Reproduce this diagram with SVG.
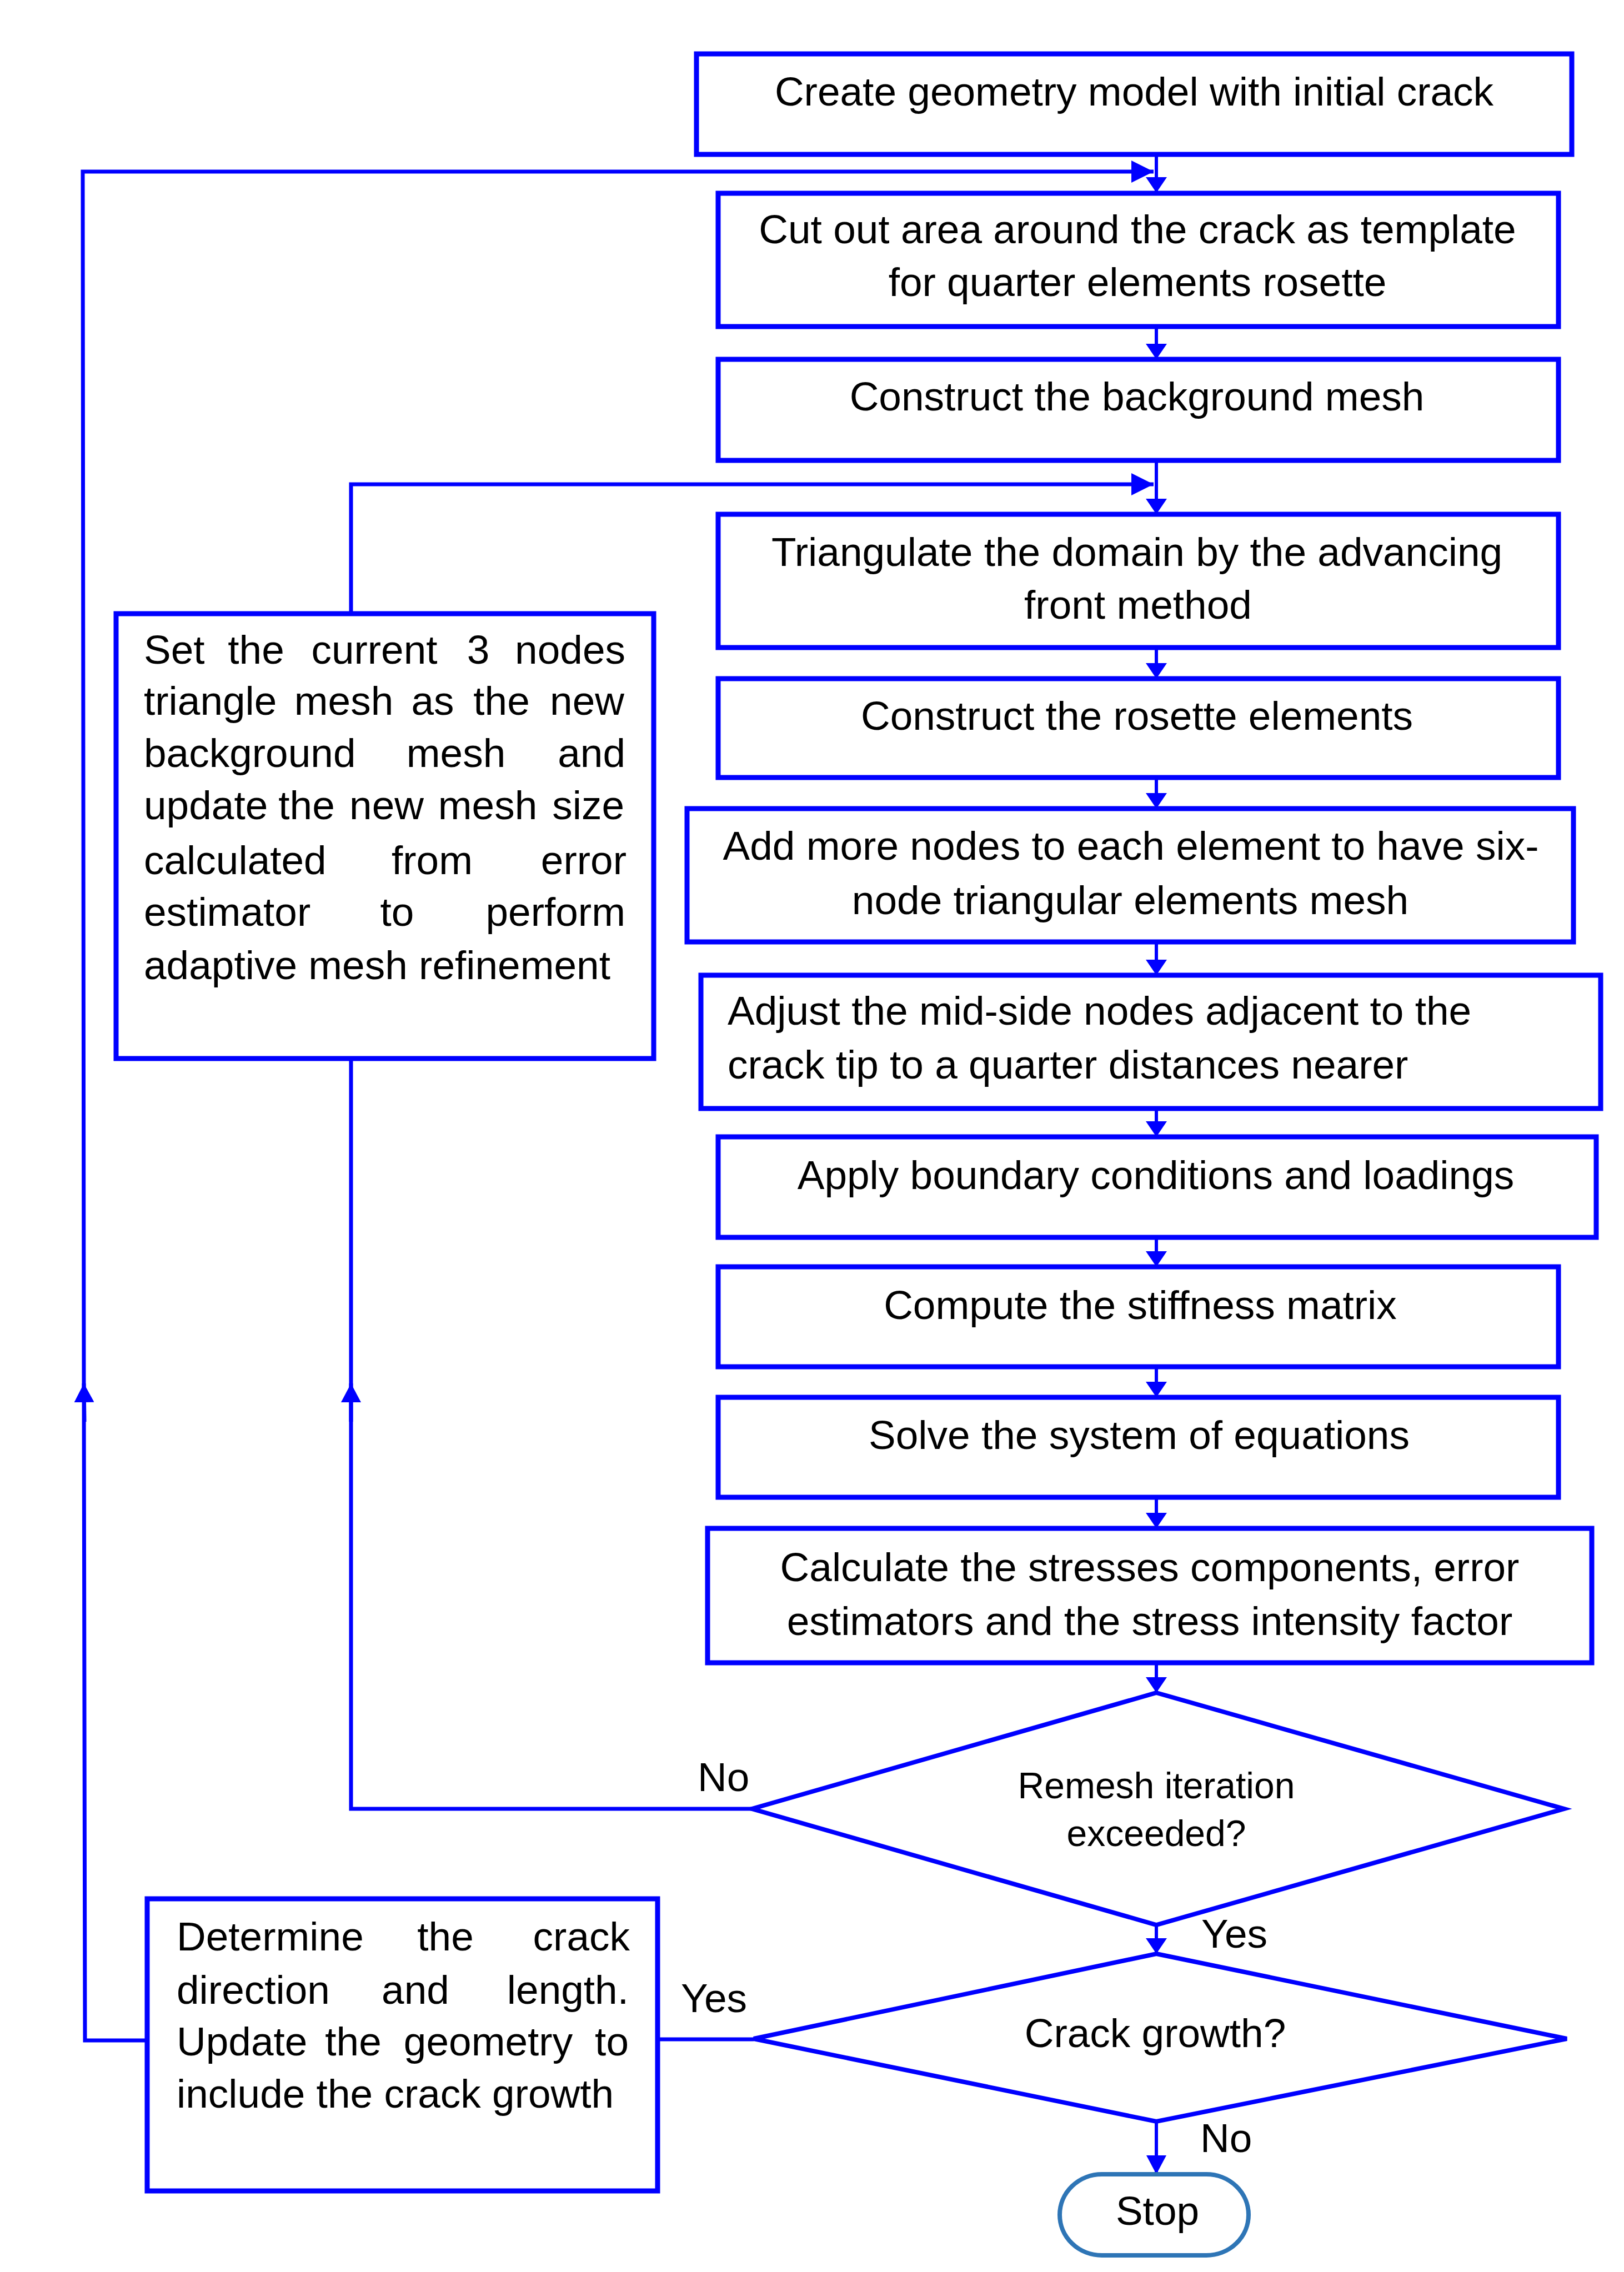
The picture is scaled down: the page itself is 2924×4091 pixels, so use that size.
<svg xmlns="http://www.w3.org/2000/svg" width="2924" height="4091" viewBox="0 0 2924 4091">
<style>
.box{fill:#fff;stroke:#0000ff;stroke-width:9}
.dia{fill:#fff;stroke:#0000ff;stroke-width:8;stroke-linejoin:miter}
.term{fill:#fff;stroke:#2e75b6;stroke-width:8}
.ln{fill:none;stroke:#0000ff;stroke-width:7}
.lv{fill:none;stroke:#0000ff;stroke-width:6}
text{font-family:"Liberation Sans",Arial,sans-serif;font-size:73px;fill:#000}
.c{text-anchor:middle}
.s{font-size:66px}
</style>
<defs>
<marker id="ah" markerUnits="userSpaceOnUse" viewBox="0 0 28 38" markerWidth="28" markerHeight="38" refX="28" refY="19" orient="auto">
<path d="M0,0 L28,19 L0,38 z" fill="#0000ff"/>
</marker>
<marker id="ahh" markerUnits="userSpaceOnUse" viewBox="0 0 40 40" markerWidth="40" markerHeight="40" refX="40" refY="20" orient="auto">
<path d="M0,0 L40,20 L0,40 z" fill="#0000ff"/>
</marker>
<marker id="ahu" markerUnits="userSpaceOnUse" viewBox="0 0 34 36" markerWidth="34" markerHeight="36" refX="34" refY="18" orient="auto">
<path d="M0,0 L34,18 L0,36 z" fill="#0000ff"/>
</marker>
</defs>
<rect width="2924" height="4091" fill="#fff"/>
<g id="connectors">
<line class="lv" x1="2082" y1="278" x2="2082" y2="347" marker-end="url(#ah)"/>
<line class="lv" x1="2082" y1="588" x2="2082" y2="647" marker-end="url(#ah)"/>
<line class="lv" x1="2082" y1="829" x2="2082" y2="926" marker-end="url(#ah)"/>
<line class="lv" x1="2082" y1="1166" x2="2082" y2="1222" marker-end="url(#ah)"/>
<line class="lv" x1="2082" y1="1400" x2="2082" y2="1456" marker-end="url(#ah)"/>
<line class="lv" x1="2082" y1="1696" x2="2082" y2="1756" marker-end="url(#ah)"/>
<line class="lv" x1="2082" y1="1996" x2="2082" y2="2047" marker-end="url(#ah)"/>
<line class="lv" x1="2082" y1="2228" x2="2082" y2="2281" marker-end="url(#ah)"/>
<line class="lv" x1="2082" y1="2461" x2="2082" y2="2516" marker-end="url(#ah)"/>
<line class="lv" x1="2082" y1="2696" x2="2082" y2="2752" marker-end="url(#ah)"/>
<line class="lv" x1="2082" y1="2994" x2="2082" y2="3048" marker-end="url(#ah)"/>
<line class="lv" x1="2082" y1="3466" x2="2082" y2="3518" marker-end="url(#ah)"/>
<line class="lv" x1="2082" y1="3820" x2="2082" y2="3915" marker-end="url(#ahu)"/>
<!-- outer loop: crack growth yes -->
<line class="ln" x1="1357" y1="3672" x2="1184" y2="3672"/>
<polyline class="ln" points="265,3674 153,3674 151,2491"/>
<line class="ln" x1="152" y1="2560" x2="151" y2="2491" marker-end="url(#ahu)"/>
<polyline class="ln" points="151,2491 149,309 2077,309" marker-end="url(#ahh)"/>
<!-- inner loop: remesh no -->
<polyline class="ln" points="1354,3257 632,3257 632,2491"/>
<line class="ln" x1="632" y1="2560" x2="632" y2="2491" marker-end="url(#ahu)"/>
<line class="ln" x1="632" y1="2491" x2="632" y2="1887"/>
<polyline class="ln" points="632,1105 632,872 2077,872" marker-end="url(#ahh)"/>
</g>
<g id="n1"><rect class="box" x="1254" y="97" width="1576" height="181"/>
<text class="c" x="2042" y="190">Create geometry model with initial crack</text></g>
<g id="n2"><rect class="box" x="1293" y="348" width="1513" height="240"/>
<text class="c" x="2048" y="438">Cut out area around the crack as template</text>
<text class="c" x="2048" y="533">for quarter elements rosette</text></g>
<g id="n3"><rect class="box" x="1293" y="647" width="1513" height="182"/>
<text class="c" x="2047" y="739">Construct the background mesh</text></g>
<g id="n4"><rect class="box" x="1293" y="926" width="1513" height="240"/>
<text class="c" x="2047" y="1019">Triangulate the domain by the advancing</text>
<text class="c" x="2049" y="1114">front method</text></g>
<g id="n5"><rect class="box" x="1293" y="1222" width="1513" height="178"/>
<text class="c" x="2047" y="1314">Construct the rosette elements</text></g>
<g id="n6"><rect class="box" x="1237" y="1456" width="1596" height="240"/>
<text class="c" x="2036" y="1548">Add more nodes to each element to have six-</text>
<text class="c" x="2035" y="1646">node triangular elements mesh</text></g>
<g id="n7"><rect class="box" x="1262" y="1756" width="1620" height="240"/>
<text x="1310" y="1845">Adjust the mid-side nodes adjacent to the</text>
<text x="1310" y="1942">crack tip to a quarter distances nearer</text></g>
<g id="n8"><rect class="box" x="1293" y="2047" width="1581" height="181"/>
<text class="c" x="2081" y="2141">Apply boundary conditions and loadings</text></g>
<g id="n9"><rect class="box" x="1293" y="2281" width="1513" height="180"/>
<text class="c" x="2053" y="2375">Compute the stiffness matrix</text></g>
<g id="n10"><rect class="box" x="1293" y="2516" width="1513" height="180"/>
<text class="c" x="2051" y="2609">Solve the system of equations</text></g>
<g id="n11"><rect class="box" x="1274" y="2752" width="1592" height="242"/>
<text class="c" x="2070" y="2847">Calculate the stresses components, error</text>
<text class="c" x="2070" y="2944">estimators and the stress intensity factor</text></g>
<g id="d1"><polygon class="dia" points="2082,3048 2816,3257 2082,3466 1354,3257"/>
<text class="c s" x="2082" y="3238">Remesh iteration</text>
<text class="c s" x="2082" y="3324">exceeded?</text></g>
<g id="d2"><polygon class="dia" points="2082,3518 2821,3671 2082,3820 1357,3671"/>
<text class="c" x="2080" y="3686">Crack growth?</text></g>
<g id="stop"><rect class="term" x="1908" y="3915" width="340" height="146" rx="76" ry="73"/>
<text class="c" x="2084" y="4006">Stop</text></g>
<g id="nA"><rect class="box" x="209" y="1105" width="968" height="801"/>
<text y="1195"><tspan x="259">Set</tspan><tspan x="461" text-anchor="middle">the</tspan><tspan x="674" text-anchor="middle">current</tspan><tspan x="861" text-anchor="middle">3</tspan><tspan x="1126" text-anchor="end">nodes</tspan></text>
<text y="1287"><tspan x="259">triangle</tspan><tspan x="619" text-anchor="middle">mesh</tspan><tspan x="779" text-anchor="middle">as</tspan><tspan x="903" text-anchor="middle">the</tspan><tspan x="1124" text-anchor="end">new</tspan></text>
<text y="1381"><tspan x="259">background</tspan><tspan x="821" text-anchor="middle">mesh</tspan><tspan x="1126" text-anchor="end">and</tspan></text>
<text y="1475"><tspan x="259">update</tspan><tspan x="552" text-anchor="middle">the</tspan><tspan x="696" text-anchor="middle">new</tspan><tspan x="878" text-anchor="middle">mesh</tspan><tspan x="1124" text-anchor="end">size</tspan></text>
<text y="1574"><tspan x="259">calculated</tspan><tspan x="778" text-anchor="middle">from</tspan><tspan x="1128" text-anchor="end">error</tspan></text>
<text y="1667"><tspan x="259">estimator</tspan><tspan x="715" text-anchor="middle">to</tspan><tspan x="1126" text-anchor="end">perform</tspan></text>
<text x="259" y="1763">adaptive mesh refinement</text></g>
<g id="nB"><rect class="box" x="265" y="3419" width="919" height="526"/>
<text y="3512"><tspan x="318">Determine</tspan><tspan x="802" text-anchor="middle">the</tspan><tspan x="1134" text-anchor="end">crack</tspan></text>
<text y="3608"><tspan x="318">direction</tspan><tspan x="748" text-anchor="middle">and</tspan><tspan x="1132" text-anchor="end">length.</tspan></text>
<text y="3701"><tspan x="318">Update</tspan><tspan x="636" text-anchor="middle">the</tspan><tspan x="879" text-anchor="middle">geometry</tspan><tspan x="1132" text-anchor="end">to</tspan></text>
<text x="318" y="3795">include the crack growth</text></g>
<g id="labels">
<text x="1256" y="3225">No</text>
<text x="2163" y="3507">Yes</text>
<text x="1226" y="3623">Yes</text>
<text x="2161" y="3875">No</text>
</g>
</svg>
